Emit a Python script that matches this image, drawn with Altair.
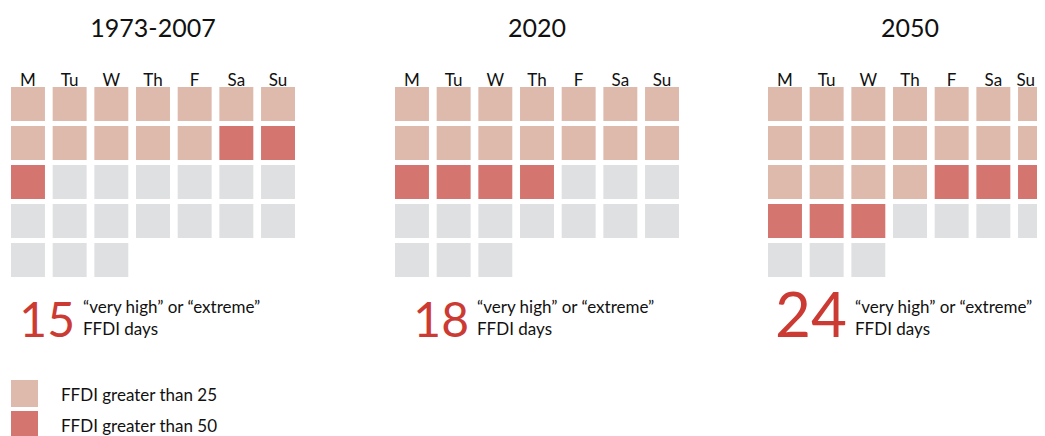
import altair as alt
import pandas as pd

FONT = "Lato, Open Sans, sans-serif"

periods = ["1973-2007", "2020", "2050"]
over25_days = [12, 14, 18]      # light cells (FFDI > 25 only)
over50_days = [3, 4, 6]         # dark cells (FFDI > 50)
totals = [15, 18, 24]
days = ["M", "Tu", "W", "Th", "F", "Sa", "Su"]
month_len = 31
levels = ["FFDI greater than 25", "FFDI greater than 50", "none"]
colors = ["#DEBAAC", "#D57570", "#DFE0E2"]
caption = ["\u201cvery high\u201d or \u201cextreme\u201d", "FFDI days"]
caption_x = [72, 82, 87]

color_scale = alt.Scale(domain=levels, range=colors)


def panel(i):
    rows = []
    for k in range(month_len):
        if k < over25_days[i]:
            lev = levels[0]
        elif k < over25_days[i] + over50_days[i]:
            lev = levels[1]
        else:
            lev = levels[2]
        rows.append({"day": days[k % 7], "week": k // 7, "level": lev})
    df = pd.DataFrame(rows)
    if i == 2:
        label_align = {"condition": {"test": "datum.value === 'Su'", "value": "right"},
                       "value": "center"}
    else:
        label_align = "center"
    cells = alt.Chart(df).mark_rect().encode(
        x=alt.X("day:N", sort=days,
                scale=alt.Scale(paddingInner=0.185, paddingOuter=0),
                axis=alt.Axis(orient="top", title=None, ticks=False, domain=False,
                              labelAngle=0, labelFont=FONT, labelFontSize=17,
                              labelBaseline="alphabetic", labelAlign=label_align,
                              labelPadding=2, labelColor="#111")),
        y=alt.Y("week:O", scale=alt.Scale(paddingInner=0.128, paddingOuter=0),
                axis=None),
        color=alt.Color("level:N", scale=color_scale, legend=None),
    )
    tdf = pd.DataFrame({"total": [totals[i]]})
    big = alt.Chart(tdf).mark_text(
        align="right", baseline="alphabetic", font=FONT,
        fontSize=62 if totals[i] >= 20 else 48, color="#CC3B33"
    ).encode(
        text="total:N",
        x=alt.value(caption_x[i] - 8), y=alt.value(250),
    )
    cap = alt.Chart(tdf).mark_text(
        align="left", baseline="alphabetic", font=FONT, fontSize=17,
        color="#111", text=caption, lineHeight=22
    ).encode(x=alt.value(caption_x[i]), y=alt.value(226))
    return alt.layer(cells, big, cap).properties(
        width=284, height=190,
        title=alt.TitleParams(periods[i], font=FONT, fontSize=25,
                              fontWeight="normal", anchor="middle",
                              color="#111", offset=29),
    )


legend_df = pd.DataFrame({"level": levels[:2]})
leg_y = alt.Y("level:N", sort=levels[:2],
              scale=alt.Scale(paddingInner=4 / 31, paddingOuter=0), axis=None)
leg_sq = alt.Chart(legend_df).mark_rect().encode(
    y=leg_y, x=alt.value(0), x2=alt.value(27),
    color=alt.Color("level:N", scale=color_scale, legend=None),
)
leg_txt = alt.Chart(legend_df).mark_text(
    align="left", baseline="middle", font=FONT, fontSize=17, color="#111", dy=2
).encode(y=leg_y, x=alt.value(50), text="level:N")
legend = alt.layer(leg_sq, leg_txt).properties(width=200, height=58)

top = alt.hconcat(
    alt.hconcat(panel(0), panel(1), spacing=100),
    panel(2), spacing=89,
)

chart = alt.vconcat(top, legend, spacing=31).properties(
    padding={"left": 3, "top": 9, "right": -15, "bottom": 0}
).configure_view(stroke=None)

chart.save("out.html", embed_options={"renderer": "svg", "actions": False})
